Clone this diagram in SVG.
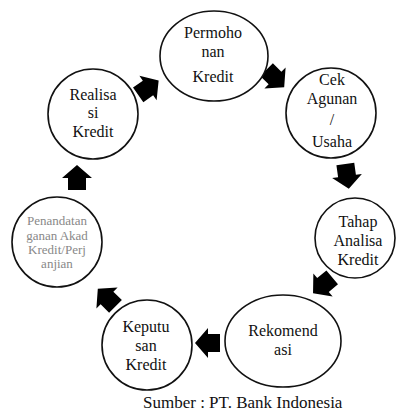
<svg xmlns="http://www.w3.org/2000/svg" width="397" height="411" viewBox="0 0 397 411" font-family="'Liberation Serif', 'DejaVu Serif', serif">
<style>
.n{fill:#fff;stroke:#111;stroke-width:1.6}
text{font-family:'Liberation Serif','DejaVu Serif',serif}
.t{font-size:16px;fill:#111;text-anchor:middle}
.s{font-size:13px;fill:#888;text-anchor:middle}
.a{fill:#000}
</style>
<defs>
<polygon id="arr" points="-12,-9 0,-9 0,-15 13,0 0,15 0,9 -12,9"/>
</defs>
<rect width="397" height="411" fill="#fff"/>
<g id="connectors">
<use href="#arr" class="a" transform="translate(148,88) rotate(-35)"/>
<use href="#arr" class="a" transform="translate(275,78) rotate(45)"/>
<use href="#arr" class="a" transform="translate(347,176) rotate(82)"/>
<use href="#arr" class="a" transform="translate(323,285) rotate(140)"/>
<use href="#arr" class="a" transform="translate(208,343) rotate(180)"/>
<use href="#arr" class="a" transform="translate(107,298) rotate(-135)"/>
<use href="#arr" class="a" transform="translate(77,178) rotate(-90)"/>
</g>
<g id="permohonan">
<ellipse class="n" cx="214" cy="56" rx="54" ry="45"/>
<text class="t" x="213" y="38">Permoho</text>
<text class="t" x="213" y="57">nan</text>
<text class="t" x="213" y="82">Kredit</text>
</g>
<g id="cek">
<circle class="n" cx="331" cy="113" r="45"/>
<text class="t" x="332" y="85">Cek</text>
<text class="t" x="332" y="104">Agunan</text>
<text class="t" x="332" y="125">/</text>
<text class="t" x="332" y="147">Usaha</text>
</g>
<g id="tahap">
<circle class="n" cx="355" cy="238" r="40"/>
<text class="t" x="358" y="227">Tahap</text>
<text class="t" x="358" y="246">Analisa</text>
<text class="t" x="358" y="265">Kredit</text>
</g>
<g id="rekomendasi">
<ellipse class="n" cx="283" cy="341" rx="58" ry="46"/>
<text class="t" x="283" y="336">Rekomend</text>
<text class="t" x="283" y="355">asi</text>
</g>
<g id="keputusan">
<circle class="n" cx="147" cy="345" r="45"/>
<text class="t" x="146" y="332">Keputu</text>
<text class="t" x="146" y="351">san</text>
<text class="t" x="146" y="370">Kredit</text>
</g>
<g id="penandatanganan">
<ellipse class="n" cx="57" cy="242" rx="45" ry="45"/>
<text class="s" x="57" y="225">Penandatan</text>
<text class="s" x="57" y="240">ganan Akad</text>
<text class="s" x="57" y="254">Kredit/Perj</text>
<text class="s" x="57" y="268">anjian</text>
</g>
<g id="realisasi">
<circle class="n" cx="93" cy="114" r="45"/>
<text class="t" x="93" y="100">Realisa</text>
<text class="t" x="93" y="118">si</text>
<text class="t" x="93" y="137">Kredit</text>
</g>
<text class="t" x="143" y="408" style="text-anchor:start;font-size:17px">Sumber : PT. Bank Indonesia</text>
</svg>
